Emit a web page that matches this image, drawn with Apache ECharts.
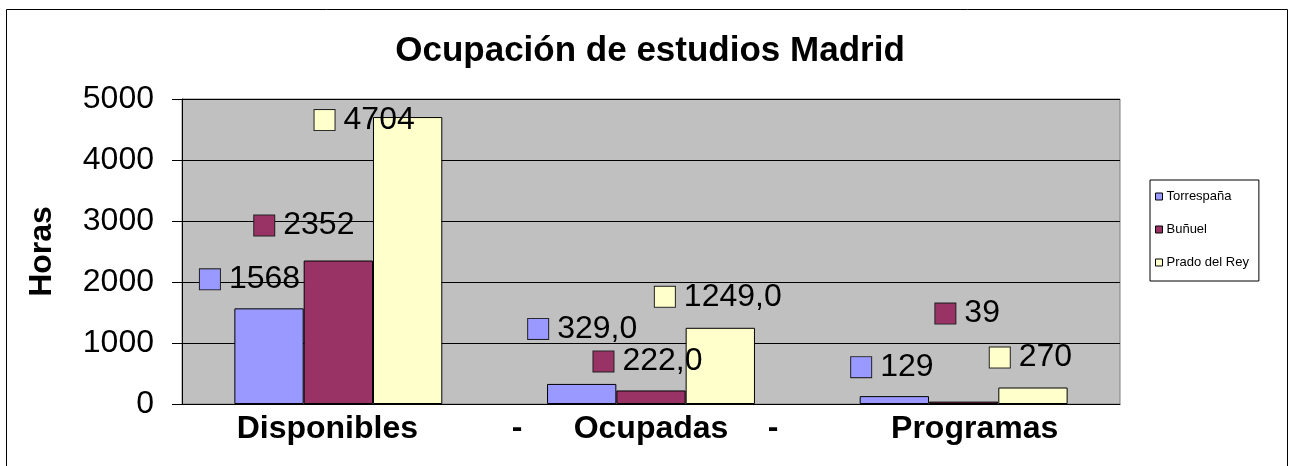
<!DOCTYPE html>
<html>
<head>
<meta charset="utf-8">
<script src="https://cdn.jsdelivr.net/npm/echarts@6/dist/echarts.min.js"></script>
<style>
    html, body { margin: 0; padding: 0; background: #fff; }
    #chart { width: 1300px; height: 466px; }
</style>
</head>
<body>
<div id="chart"></div>
<script>
    var categories = ["Disponibles", "Ocupadas", "Programas"]
    var decimals = [0, 1, 0]

    var torrespana = [1568, 329, 129]
    var bunuel = [2352, 222, 39]
    var pradoDelRey = [4704, 1249, 270]

    var yTicks = [0, 1000, 2000, 3000, 4000, 5000]

    // 标签偏移（Excel 原图的位置）
    var labelOffsets = [
        [[-19, -13], [1, -39], [-2, -13]],
        [[-34, -19], [-3, -13], [4, -72]],
        [[-43, 19], [-2, -15], [-2, -14]]
    ]

    // 分类标签的左右留白，让文字稍微偏离中心
    var catPadding = [[0, 22, 0, 0], [0, 0, 0, 0], [0, 0, 0, 22]]

    var font = "Liberation Sans, Arial, sans-serif"

    var seriesDefs = [
        { name: "Torrespaña", data: torrespana, color: "#9999FF" },
        { name: "Buñuel", data: bunuel, color: "#993366" },
        { name: "Prado del Rey", data: pradoDelRey, color: "#FFFFCC" }
    ]

    var fmt = function (value, idx) {
        return value.toFixed(decimals[idx]).replace(".", ",")
    }

    var chart = echarts.init(document.getElementById("chart"))

    var series = seriesDefs.map(function (s, si) {
        return {
            name: s.name,
            type: "bar",
            barGap: 0,
            barCategoryGap: "33.5%",
            itemStyle: { color: s.color, borderColor: "#000", borderWidth: 1 },
            data: s.data.map(function (v, i) {
                return {
                    value: v,
                    label: { offset: labelOffsets[si][i] }
                }
            }),
            label: {
                show: true,
                position: "top",
                distance: 0,
                formatter: function (p) {
                    return "{k|}{v|" + fmt(p.value, p.dataIndex) + "}"
                },
                rich: {
                    k: {
                        width: 20,
                        height: 20,
                        backgroundColor: s.color,
                        borderColor: "#222",
                        borderWidth: 1
                    },
                    v: {
                        fontFamily: font,
                        fontSize: 32,
                        color: "#000",
                        lineHeight: 32,
                        padding: [0, 0, 0, 9]
                    }
                }
            },
            emphasis: { disabled: true }
        }
    })

    var option = {
        animation: false,
        backgroundColor: "#fff",
        title: {
            text: "Ocupación de estudios Madrid",
            left: "center",
            top: 29,
            textStyle: { fontFamily: font, fontSize: 35, fontWeight: "bold", color: "#000" }
        },
        legend: {
            orient: "vertical",
            left: 1150,
            top: 180,
            padding: [10, 10, 12, 5],
            itemWidth: 7,
            itemHeight: 7,
            itemGap: 20,
            backgroundColor: "#fff",
            borderColor: "#000",
            borderWidth: 1,
            borderRadius: 0,
            icon: "rect",
            itemStyle: { borderColor: "#000", borderWidth: 1 },
            textStyle: { fontFamily: font, fontSize: 13, color: "#000", padding: [0, 0, 0, -1] },
            data: seriesDefs.map(function (s) { return s.name })
        },
        grid: {
            left: 182,
            right: 180,
            top: 99,
            bottom: 62,
            show: true,
            backgroundColor: "#C0C0C0",
            borderColor: "#808080",
            borderWidth: 1
        },
        xAxis: {
            type: "category",
            data: categories.map(function (c, i) {
                return { value: c, textStyle: { padding: catPadding[i] } }
            }),
            axisLine: { lineStyle: { color: "#000" } },
            axisTick: { show: false },
            axisLabel: {
                fontFamily: font,
                fontSize: 32,
                fontWeight: "bold",
                color: "#000",
                margin: 9
            }
        },
        yAxis: {
            type: "value",
            min: yTicks[0],
            max: yTicks[yTicks.length - 1],
            interval: 1000,
            name: "Horas",
            nameLocation: "middle",
            nameGap: 124,
            nameTextStyle: { fontFamily: font, fontSize: 32, fontWeight: "bold", color: "#000" },
            axisLine: { show: true, lineStyle: { color: "#000" } },
            axisTick: { show: true, length: 10, lineStyle: { color: "#000" } },
            axisLabel: {
                fontFamily: font,
                fontSize: 32,
                color: "#000",
                margin: 28,
                formatter: function (v) { return String(v) }
            },
            splitLine: { lineStyle: { color: "#000", width: 1 } }
        },
        graphic: [
            {
                type: "rect",
                shape: { x: 6.5, y: 9.5, width: 1281, height: 470 },
                style: { fill: null, stroke: "#000", lineWidth: 1 },
                z: 100
            },
            {
                type: "text",
                x: 517, y: 428,
                style: { text: "-", font: "bold 32px " + font, fill: "#000", textAlign: "center", textVerticalAlign: "middle" }
            },
            {
                type: "text",
                x: 773, y: 428,
                style: { text: "-", font: "bold 32px " + font, fill: "#000", textAlign: "center", textVerticalAlign: "middle" }
            }
        ],
        series: series
    }

    chart.setOption(option)
</script>
</body>
</html>
